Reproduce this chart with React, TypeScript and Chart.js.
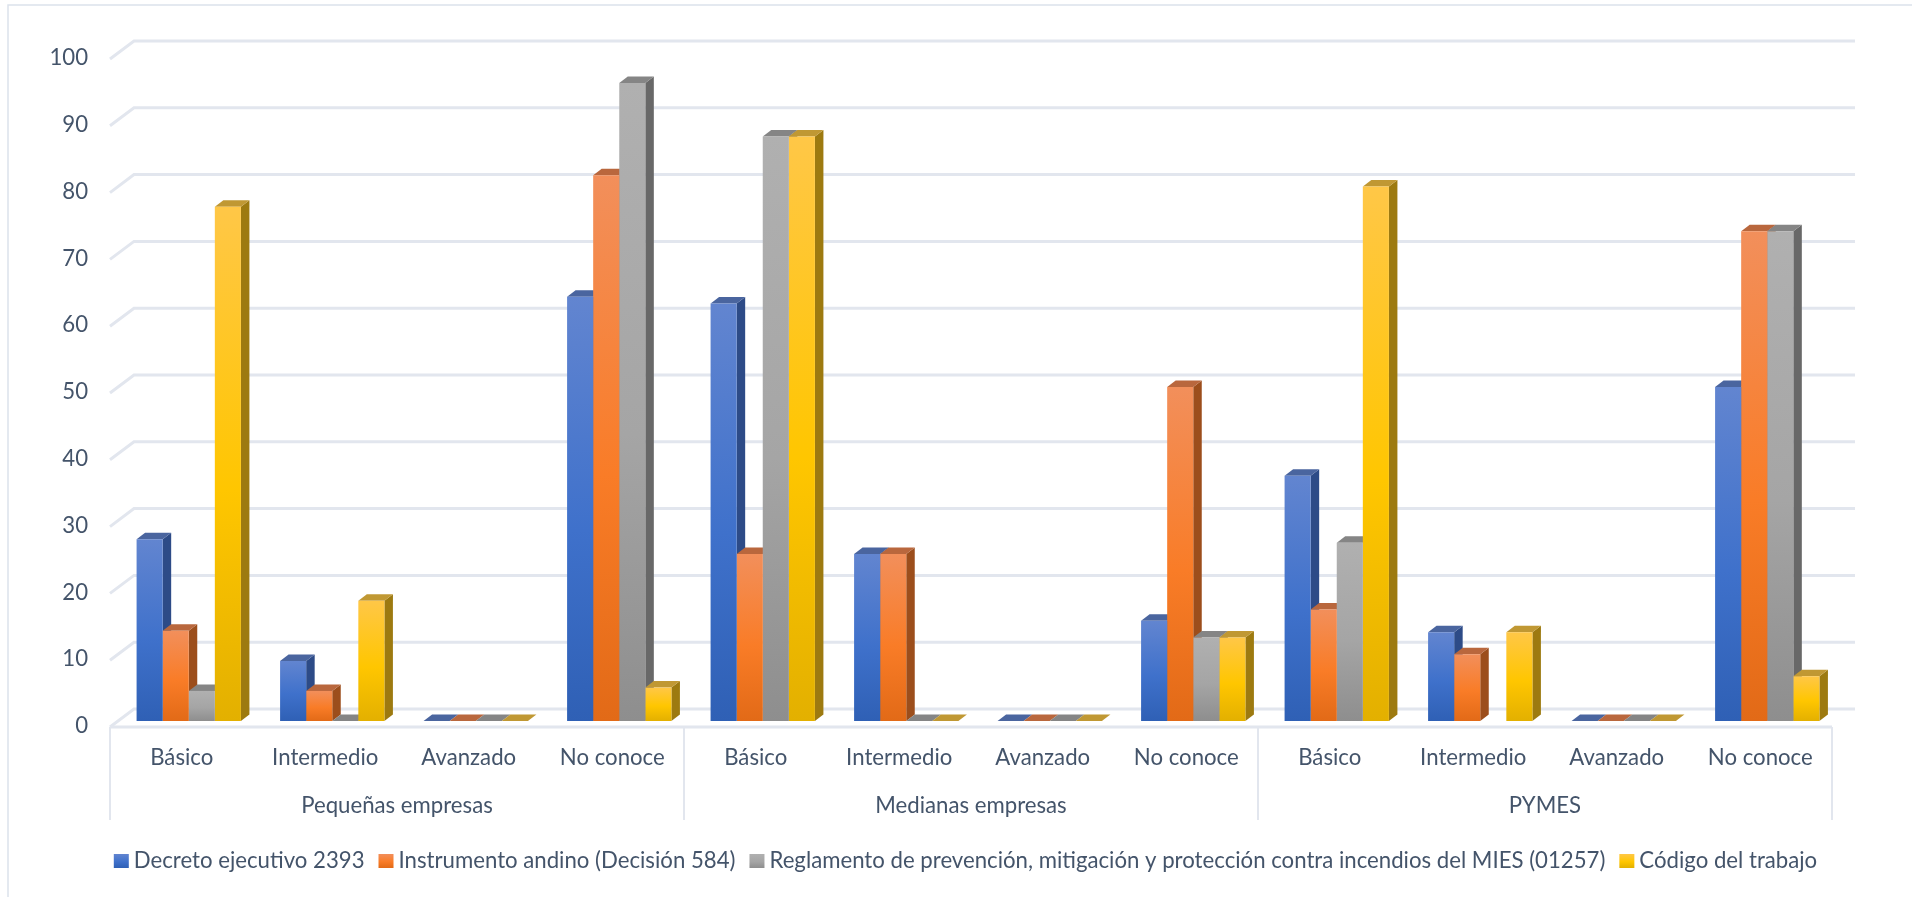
import React, { useEffect, useRef } from "react";
import { Chart, registerables } from "chart.js";

Chart.register(...registerables);

const categories = [
  "Básico", "Intermedio", "Avanzado", "No conoce",
  "Básico", "Intermedio", "Avanzado", "No conoce",
  "Básico", "Intermedio", "Avanzado", "No conoce",
];
const groups = ["Pequeñas empresas", "Medianas empresas", "PYMES"];

const decreto = [27.2, 9, 0, 63.5, 62.5, 25, 0, 15, 36.7, 13.3, 0, 50];
const instrumento = [13.5, 4.5, 0, 81.7, 25, 25, 0, 50, 16.7, 10, 0, 73.3];
const reglamento = [4.5, 0, 0, 95.5, 87.5, 0, 0, 12.5, 26.7, null, 0, 73.3];
const codigo = [77, 18, 0, 5, 87.5, 0, 0, 12.5, 80, 13.3, 0, 6.7];

const seriesNames = [
  "Decreto ejecutivo 2393",
  "Instrumento andino (Decisión 584)",
  "Reglamento de prevención, mitigación y protección contra incendios del MIES (01257)",
  "Código del trabajo",
];
const seriesValues = [decreto, instrumento, reglamento, codigo];

const palette = [
  { light: "#6285D0", mid: "#3F71CB", dark: "#2F60B5", top: "#4A659F", side: "#2D4B87" },
  { light: "#F28F5B", mid: "#F97C27", dark: "#E26A17", top: "#B9673D", side: "#9C4E1C" },
  { light: "#B0B0B0", mid: "#A5A5A5", dark: "#8E8E8E", top: "#858585", side: "#686868" },
  { light: "#FFC747", mid: "#FFC600", dark: "#E3B000", top: "#C09833", side: "#9D7A10" },
];

const TEXT = "#44546A";
const GRID = "#E2E6EE";
const FONT = "Lato";
const SIZE = 22.2;
const DX = 8.5;
const DY = 6.5;

function gradient(ctx: CanvasRenderingContext2D, top: number, bottom: number, c: any) {
  const g = ctx.createLinearGradient(0, top, 0, bottom);
  g.addColorStop(0, c.light);
  g.addColorStop(0.55, c.mid);
  g.addColorStop(1, c.dark);
  return g;
}

const faces3d = {
  id: "faces3d",
  beforeDatasetsDraw(chart: any) {
    const { ctx, scales } = chart;
    const y = scales.y;
    const x = scales.x;
    const x2 = scales.x2;
    ctx.save();
    // outer frame
    ctx.strokeStyle = "#DCE2EC";
    ctx.lineWidth = 1.5;
    ctx.beginPath();
    ctx.moveTo(8, chart.height);
    ctx.lineTo(8, 5);
    ctx.lineTo(chart.width, 5);
    ctx.stroke();
    // walls
    ctx.strokeStyle = GRID;
    ctx.lineWidth = 3;
    y.ticks.forEach((_: any, i: number) => {
      const py = y.getPixelForTick(i);
      ctx.beginPath();
      ctx.moveTo(x.left - 7, py + 6);
      ctx.lineTo(x.left + 17, py - 12);
      ctx.lineTo(x.right + 16, py - 12);
      ctx.stroke();
    });
    // floor front edge
    const floor = y.getPixelForValue(0) + 6;
    ctx.beginPath();
    ctx.moveTo(x.left - 7, floor);
    ctx.lineTo(x.right - 7, floor);
    ctx.stroke();
    // group separators
    ctx.lineWidth = 2;
    const band = (x2.right - x2.left) / groups.length;
    for (let i = 0; i <= groups.length; i++) {
      const px = x2.left + band * i - 7;
      ctx.beginPath();
      ctx.moveTo(px, floor);
      ctx.lineTo(px, 820);
      ctx.stroke();
    }
    // side and top faces of every bar, left to right; the library paints the front faces over them
    chart.data.datasets.forEach((ds: any, index: number) => {
      const c = palette[index];
      chart.getDatasetMeta(index).data.forEach((el: any, i: number) => {
        if (ds.data[i] === null || ds.data[i] === undefined) return;
        const { x: bx, y: by, base, width } = el.getProps(["x", "y", "base", "width"], true);
        const l = bx - width / 2;
        const r = bx + width / 2;
        if (base - by > 0.5) {
          ctx.fillStyle = c.side;
          ctx.beginPath();
          ctx.moveTo(r, by);
          ctx.lineTo(r + DX, by - DY);
          ctx.lineTo(r + DX, base - DY);
          ctx.lineTo(r, base);
          ctx.closePath();
          ctx.fill();
        }
        ctx.fillStyle = c.top;
        ctx.beginPath();
        ctx.moveTo(l, by);
        ctx.lineTo(r, by);
        ctx.lineTo(r + DX, by - DY);
        ctx.lineTo(l + DX, by - DY);
        ctx.closePath();
        ctx.fill();
      });
    });
    ctx.restore();
  },
  afterDraw(chart: any) {
    const { ctx } = chart;
    ctx.save();
    ctx.font = `${SIZE}px ${FONT}`;
    ctx.textBaseline = "middle";
    ctx.textAlign = "left";
    const box = 15;
    const gap = 5;
    const between = 14;
    const names = chart.data.datasets.map((d: any) => d.label);
    const widths = names.map((n: string) => ctx.measureText(n).width);
    const total =
      widths.reduce((a: number, b: number) => a + b + box + gap, 0) + between * (names.length - 1);
    let px = 965.5 - total / 2;
    const cy = 861;
    names.forEach((n: string, i: number) => {
      ctx.fillStyle = gradient(ctx, cy - 7, cy + 7, palette[i]);
      ctx.fillRect(px, cy - 7, box, 14);
      ctx.fillStyle = TEXT;
      ctx.fillText(n, px + box + gap, cy);
      px += box + gap + widths[i] + between;
    });
    ctx.restore();
  },
};

export default function App() {
  const ref = useRef<HTMLCanvasElement | null>(null);
  useEffect(() => {
    if (!ref.current) return;
    const chart = new Chart(ref.current, {
      type: "bar",
      data: {
        labels: categories,
        datasets: seriesValues.map((data, i) => ({
          label: seriesNames[i],
          data,
          categoryPercentage: 0.727,
          barPercentage: 1,
          backgroundColor: (c: any) => {
            const ch = c.chart;
            const yS = ch.scales?.y;
            if (!yS || c.parsed?.y === undefined || c.parsed?.y === null) return palette[i].mid;
            const top = yS.getPixelForValue(c.parsed.y);
            const bottom = yS.getPixelForValue(0);
            if (!Number.isFinite(top) || !Number.isFinite(bottom) || bottom - top < 1) return palette[i].mid;
            return gradient(ch.ctx, top, bottom, palette[i]);
          },
        })),
      },
      options: {
        responsive: false,
        animation: false,
        layout: { padding: { top: 53, right: 73, bottom: 56, left: 0 } },
        plugins: { legend: { display: false }, tooltip: { enabled: false } },
        scales: {
          x: {
            type: "category",
            weight: 0,
            grid: { display: false },
            border: { display: false },
            afterFit: (s: any) => { s.height = 60; },
            ticks: {
              color: TEXT,
              font: { family: FONT, size: SIZE },
              padding: 15.5,
              labelOffset: -7,
              autoSkip: false,
              maxRotation: 0,
            },
          },
          x2: {
            type: "category",
            axis: "x",
            position: "bottom",
            weight: 1,
            labels: groups,
            offset: true,
            grid: { display: false },
            border: { display: false },
            afterFit: (s: any) => { s.height = 60; },
            ticks: {
              color: TEXT,
              font: { family: FONT, size: SIZE },
              padding: 3.5,
              labelOffset: -7,
              autoSkip: false,
              maxRotation: 0,
            },
          },
          y: {
            min: 0,
            max: 100,
            grid: { display: false },
            border: { display: false },
            afterFit: (s: any) => { s.width = 117; },
            ticks: {
              stepSize: 10,
              color: TEXT,
              font: { family: FONT, size: SIZE },
              padding: 21,
              labelOffset: 5,
            },
          },
        },
      },
      plugins: [faces3d],
    } as any);
    return () => chart.destroy();
  }, []);
  return (
    <div style={{ position: "absolute", left: 0, top: 0, width: 1912, height: 897, background: "#fff" }}>
      <canvas ref={ref} width={1912} height={897} style={{ display: "block" }} />
    </div>
  );
}
